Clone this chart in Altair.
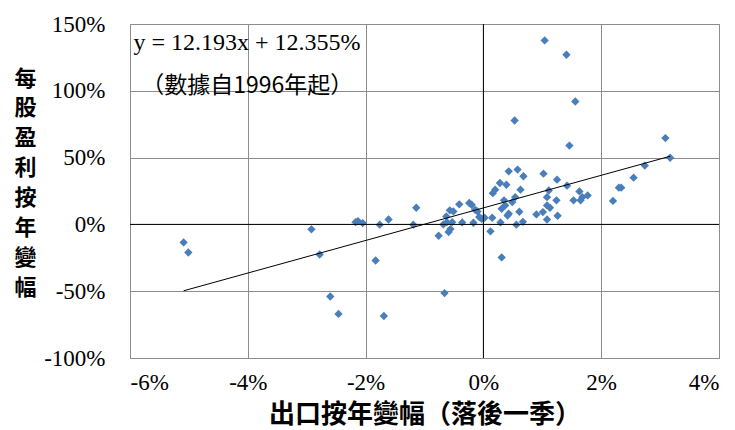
import altair as alt
import pandas as pd

# Export YoY change (lagged one quarter), in percent
export_yoy = [-5.09, -5.01, -2.92, -2.78, -2.60, -2.46, -2.17, -2.13, -2.05, -1.83,
              -1.76, -1.69, -1.61, -1.19, -1.14, -0.76, -0.68, -0.66, -0.63, -0.62,
              -0.57, -0.59, -0.56, -0.53, -0.51, -0.41, -0.36, -0.24, -0.20, -0.17,
              -0.14, -0.10, -0.07, -0.03, 0.02, 0.12, 0.15, 0.16, 0.20, 0.28,
              0.29, 0.31, 0.31, 0.35, 0.37, 0.39, 0.41, 0.43, 0.43, 0.49,
              0.53, 0.54, 0.56, 0.58, 0.61, 0.63, 0.67, 0.68, 0.90, 1.01,
              1.02, 1.04, 1.08, 1.08, 1.08, 1.11, 1.13, 1.24, 1.25, 1.26,
              1.41, 1.42, 1.46, 1.53, 1.56, 1.63, 1.65, 1.68, 1.77, 2.20,
              2.30, 2.34, 2.55, 2.74, 3.09, 3.17]
# EPS YoY change, in percent
eps_yoy = [-13.5, -21.0, -3.7, -22.5, -54.0, -67.0, 1.7, 2.5, 1.0, -27.0,
           -0.2, -68.6, 3.7, -0.2, 12.5, -8.5, 0.0, -51.4, 6.0, 1.7,
           10.5, -5.7, -3.5, 1.7, 9.7, 15.0, 1.5, 16.0, 14.7, 1.2,
           11.0, 9.7, 5.5, 4.2, 5.0, -5.2, 5.0, 23.4, 26.0, 31.0,
           1.5, 11.7, -24.7, 18.0, 14.2, 29.7, 6.7, 39.7, 8.0, 16.7,
           77.8, 20.4, -0.2, 41.0, 9.5, 26.0, 1.9, 36.0, 7.5, 9.2,
           38.0, 137.7, 20.4, 14.2, 3.7, 25.4, 12.5, 18.0, 33.5, 6.5,
           127.0, 29.0, 59.0, 18.0, 92.0, 24.7, 18.0, 20.4, 21.7, 17.6,
           27.5, 27.5, 35.0, 44.0, 64.6, 49.9]

# Trend line stated on the chart: y = 12.193x + 12.355%
trend_slope = 12.193
trend_intercept = 0.12355

x_ticks = [-0.06, -0.04, -0.02, 0.0, 0.02, 0.04]
y_ticks = [-1.0, -0.5, 0.0, 0.5, 1.0, 1.5]

y_title = ["每", "股", "盈", "利", "按", "年", "變", "幅"]
x_title = "出口按年變幅（落後一季）"
eq_text = "y = 12.193x + 12.355%"
note_text = "（數據自1996年起）"

df = pd.DataFrame({"x": [v / 100 for v in export_yoy], "y": [v / 100 for v in eps_yoy]})
x_lo, x_hi = df["x"].min(), df["x"].max()
trend = pd.DataFrame({"x": [x_lo, x_hi],
                      "y": [trend_slope * x_lo + trend_intercept, trend_slope * x_hi + trend_intercept]})

SERIF = "Liberation Serif"
CJK = "Noto Sans CJK TC"
LBL = "replace(format(datum.value, '.0%'), '\u2212', '-')"

xs = alt.Scale(domain=[-0.06, 0.04], nice=False, zero=False)
ys = alt.Scale(domain=[-1.0, 1.5], nice=False, zero=False)

x_axis = alt.Axis(values=x_ticks, labelExpr=LBL, labelPadding=13, labelFont=SERIF, labelFontSize=23,
                  title=x_title, titleFontSize=26, titleBaseline="middle", titleY=56)
y_axis = alt.Axis(values=y_ticks, labelExpr=LBL, labelPadding=25, labelFont=SERIF, labelFontSize=23,
                  title=y_title, titleFontSize=22, titleAngle=0, titleAlign="center",
                  titleBaseline="top", titleX=-105, titleY=44, titleLineHeight=29.9)

points = alt.Chart(df).mark_point(shape="diamond", filled=True, size=70, color="#4A7EBB", opacity=1).encode(
    x=alt.X("x:Q", scale=xs, axis=x_axis),
    y=alt.Y("y:Q", scale=ys, axis=y_axis),
)

zero_x = alt.Chart(pd.DataFrame({"x": [0.0]})).mark_rule(color="black", strokeWidth=1).encode(
    x=alt.X("x:Q", scale=xs))
zero_y = alt.Chart(pd.DataFrame({"y": [0.0]})).mark_rule(color="black", strokeWidth=1).encode(
    y=alt.Y("y:Q", scale=ys))

trend_line = alt.Chart(trend).mark_line(color="black", strokeWidth=1).encode(
    x=alt.X("x:Q", scale=xs), y=alt.Y("y:Q", scale=ys))

eq = alt.Chart(pd.DataFrame({"x": [-0.0594], "y": [1.355], "t": [eq_text]})).mark_text(
    align="left", baseline="middle", font=SERIF, fontSize=24, color="black").encode(
    x=alt.X("x:Q", scale=xs), y=alt.Y("y:Q", scale=ys), text="t:N")
note = alt.Chart(pd.DataFrame({"x": [-0.0401], "y": [1.033], "t": [note_text]})).mark_text(
    align="center", baseline="middle", font=CJK, fontSize=23, color="black").encode(
    x=alt.X("x:Q", scale=xs), y=alt.Y("y:Q", scale=ys), text="t:N")

chart = alt.layer(points, zero_x, zero_y, trend_line, eq, note).properties(
    width=589, height=334,
    background="white",
    autosize=alt.AutoSizeParams(type="none"),
    padding={"left": 122, "top": 16, "right": 4, "bottom": 72},
).configure_axis(
    grid=True, gridColor="#8c8c8c", gridWidth=1, ticks=False, domain=False,
    labelFont=SERIF, labelFontSize=23, labelColor="black",
    titleFont=CJK, titleFontWeight="bold", titleColor="black",
).configure_view(stroke="#8c8c8c", strokeWidth=1)

chart.save("out.html", embed_options={"renderer": "svg", "actions": False})
